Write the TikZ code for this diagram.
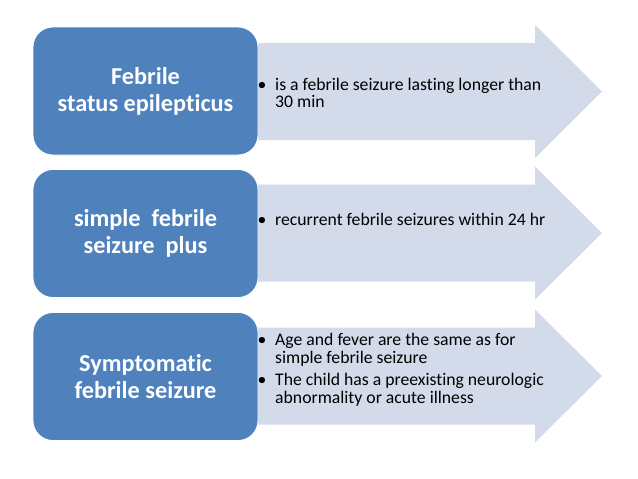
\documentclass[tikz,border=0pt]{standalone}
\usepackage{fontspec}
\setmainfont[RawFeature={-liga;-clig;-dlig}]{Carlito}
\definecolor{boxblue}{HTML}{4F81BD}
\definecolor{arrowfill}{HTML}{D3DAE9}
\begin{document}
\begin{tikzpicture}[x=1pt,y=-1pt,
  titlebox/.style={fill=boxblue,draw=white,line width=0.8pt,rounded corners=20pt,
    minimum width=225pt,minimum height=128pt,text=white,
    font=\fontsize{24.3}{27}\selectfont\bfseries,align=center,inner sep=0pt},
  bodytext/.style={anchor=base west,inner sep=0pt,font=\fontsize{17.7}{19}\selectfont},
  bulletmark/.style={anchor=base,inner sep=0pt,font=\fontsize{17.7}{19}\selectfont},
  arrowshape/.style={fill=arrowfill}]
\useasboundingbox (0,0) rectangle (638,479);
\fill[white] (0,0) rectangle (638,479);
% arrows
\foreach \c in {91.5,233,376}{
  \fill[arrowshape] (250,\c-48.5) -- (535,\c-48.5) -- (535,\c-66.5) -- (602,\c)
     -- (535,\c+66.5) -- (535,\c+48.5) -- (250,\c+48.5) -- cycle;
}
% boxes
\node[titlebox] (b1) at (145.5,91) {Febrile\\status epilepticus};
\node[titlebox] (b2) at (145.5,233.5) {simple~~febrile\\seizure~~plus};
\node[titlebox] (b3) at (145.5,376.5) {Symptomatic\\febrile seizure};
% texts
\node[bulletmark] (p1) at (262,90) {•};
\node[bodytext] (t1a) at (275,90) {is a febrile seizure lasting longer than};
\node[bodytext] (t1b) at (275,107.5) {30 min};
\node[bulletmark] (p2) at (262,225) {•};
\node[bodytext] (t2a) at (275,225) {recurrent febrile seizures within 24 hr};
\node[bulletmark] (p3) at (262,345) {•};
\node[bodytext] (t3a) at (275,345) {Age and fever are the same as for};
\node[bodytext] (t3b) at (275,363.5) {simple febrile seizure};
\node[bulletmark] (p4) at (262,385) {•};
\node[bodytext] (t3c) at (275,385) {The child has a preexisting neurologic};
\node[bodytext] (t3d) at (275,403.5) {abnormality or acute illness};
\end{tikzpicture}
\end{document}
